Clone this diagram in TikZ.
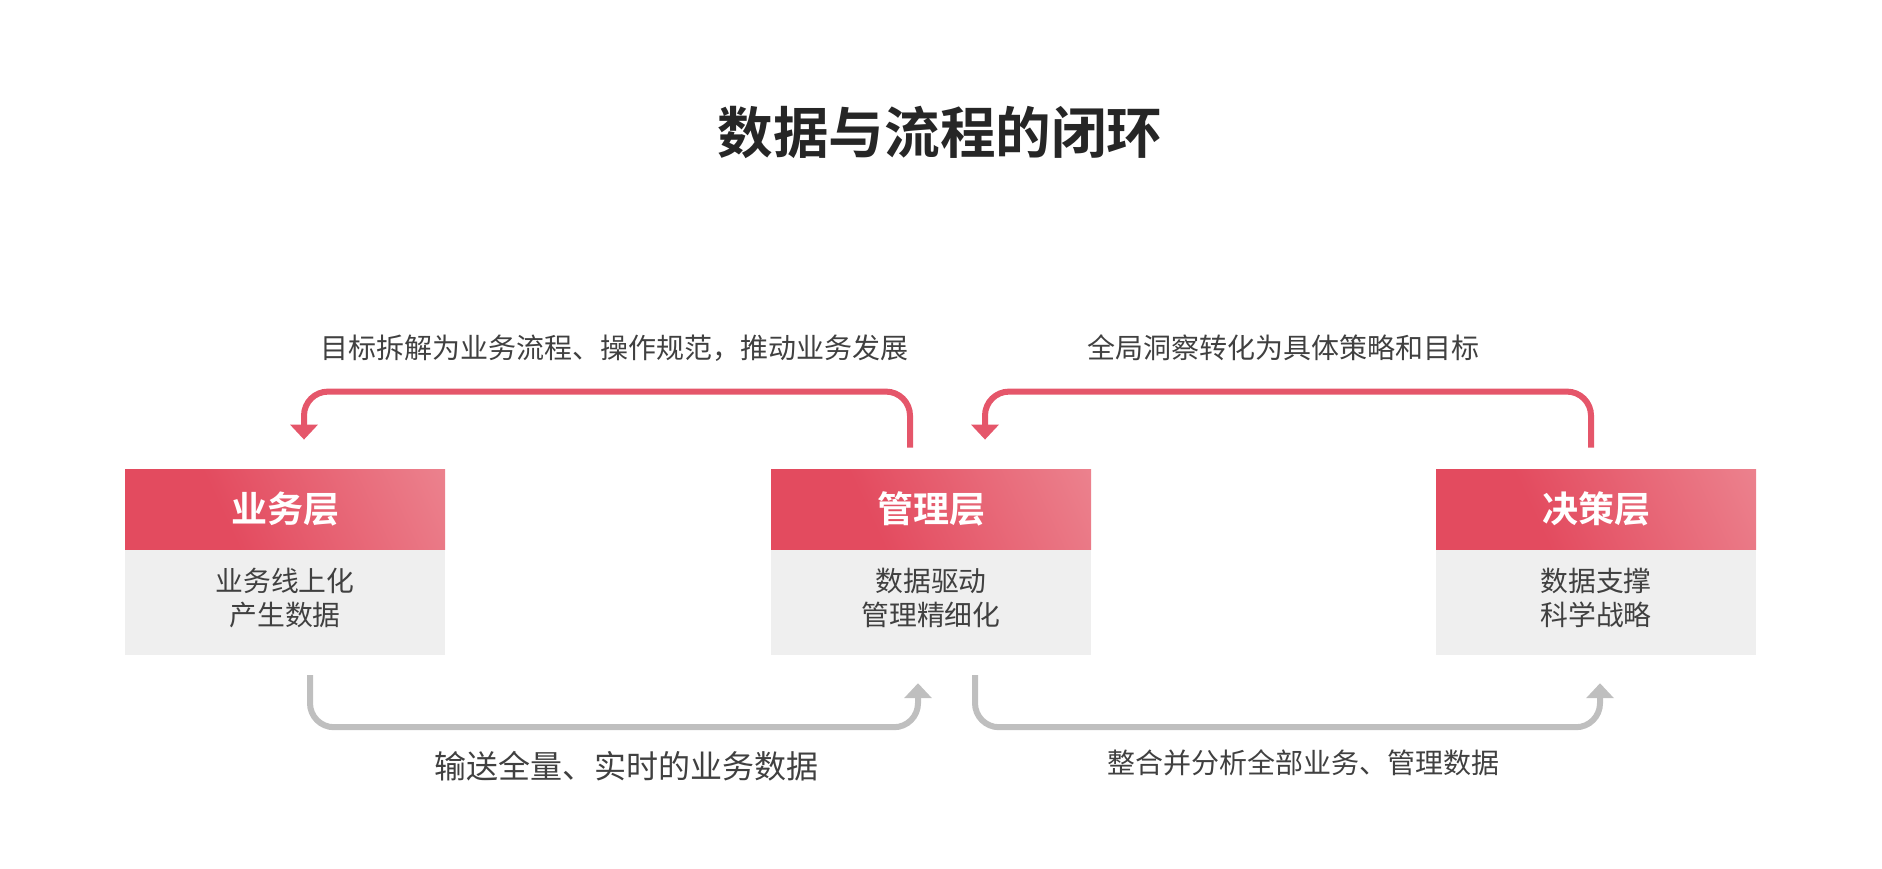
\documentclass[tikz,border=0pt]{standalone}
\usepackage{fontspec}
\setmainfont{Noto Sans CJK SC}[BoldFont={Noto Sans CJK SC Bold}]
\usetikzlibrary{positioning,arrows.meta}
\definecolor{hdark}{RGB}{227,75,95}
\definecolor{hlight}{RGB}{239,150,159}
\definecolor{loopred}{RGB}{229,86,106}
\definecolor{loopgray}{RGB}{191,191,191}
\definecolor{boxgray}{RGB}{239,239,239}
\definecolor{txt}{RGB}{64,64,64}
\definecolor{ttl}{RGB}{38,38,38}
\pgfdeclarehorizontalshading{hdrshade}{100bp}{color(0bp)=(hdark); color(38bp)=(hdark); color(100bp)=(hlight)}

\begin{document}
\begin{tikzpicture}[x=0.5pt, y=-0.5pt,
  hdrbox/.style={shade, shading=hdrshade, shading angle=25, minimum width=160pt,
    minimum height=40pt, inner sep=0pt, text=white, font=\fontsize{18}{22}\selectfont\bfseries},
  bodybox/.style={fill=boxgray, minimum width=160pt, minimum height=52.5pt, inner sep=0pt,
    align=center, text depth=5.5pt, text=txt, font=\fontsize{13.9}{16.8}\selectfont},
  redloop/.style={draw=loopred, line width=3pt, rounded corners=12pt,
    -{Triangle[length=7.5pt,width=13.5pt]}},
  grayloop/.style={draw=loopgray, line width=3pt, rounded corners=12pt,
    -{Triangle[length=7.5pt,width=13.5pt]}},
  looplabel/.style={text=txt, font=\fontsize{14}{17}\selectfont}]
  \useasboundingbox (0,0) rectangle (1882,868);
  % title
  \node[text=ttl, font=\fontsize{27.8}{32}\selectfont\bfseries] (title) at (940,132) {数据与流程的闭环};
  % three layers
  \node[hdrbox] (hdr1) at (285,509) {业务层};
  \node[bodybox, below=0pt of hdr1] (body1) {业务线上化\\产生数据};
  \node[hdrbox] (hdr2) at (931,509) {管理层};
  \node[bodybox, below=0pt of hdr2] (body2) {数据驱动\\管理精细化};
  \node[hdrbox] (hdr3) at (1596,509) {决策层};
  \node[bodybox, below=0pt of hdr3] (body3) {数据支撑\\科学战略};
  % downward loops (red)
  \draw[redloop] ([xshift=-10.5pt,yshift=10.5pt]hdr2.north) -- ++(0,28pt)
    -| ([xshift=9.5pt,yshift=14.5pt]hdr1.north);
  \draw[redloop] ([xshift=-2.5pt,yshift=10.5pt]hdr3.north) -- ++(0,28pt)
    -| ([xshift=27pt,yshift=14.5pt]hdr2.north);
  % upward loops (gray)
  \draw[grayloop] ([xshift=12.5pt,yshift=-10pt]body1.south) -- ++(0,-26pt)
    -| ([xshift=-6.5pt,yshift=-14pt]body2.south);
  \draw[grayloop] ([xshift=22pt,yshift=-10pt]body2.south) -- ++(0,-26pt)
    -| ([xshift=2pt,yshift=-14pt]body3.south);
  % loop labels
  \node[looplabel] (lbl1) at (614,348) {目标拆解为业务流程、操作规范，推动业务发展};
  \node[looplabel] (lbl2) at (1283,348) {全局洞察转化为具体策略和目标};
  \node[looplabel, font=\fontsize{16}{19}\selectfont] (lbl3) at (626,766) {输送全量、实时的业务数据};
  \node[looplabel] (lbl4) at (1303,763) {整合并分析全部业务、管理数据};
\end{tikzpicture}
\end{document}
